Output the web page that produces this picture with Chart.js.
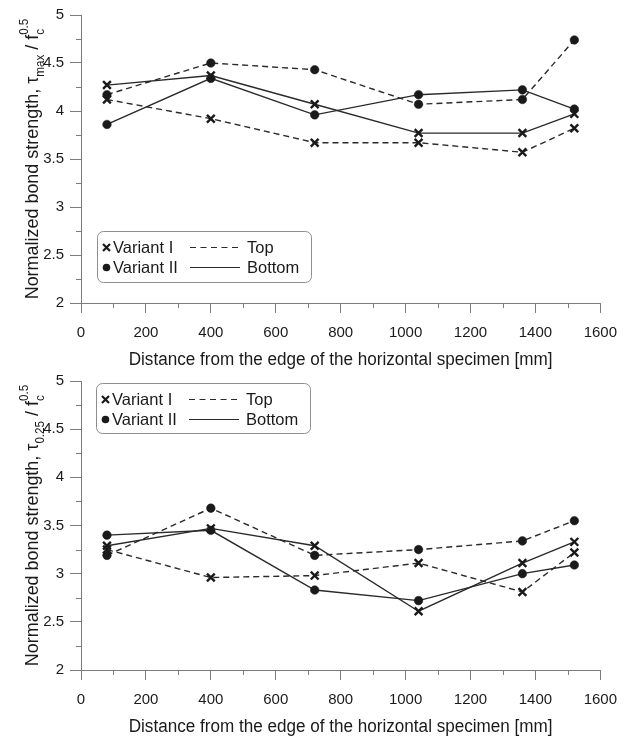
<!DOCTYPE html>
<html>
<head>
<meta charset="utf-8">
<script src="https://cdn.jsdelivr.net/npm/chart.js@4.4.1/dist/chart.umd.min.js"></script>
<style>
  html, body { margin: 0; padding: 0; background: #fff; }
  #wrap { position: relative; width: 628px; height: 740px; overflow: hidden; }
  canvas { position: absolute; left: 0; }
  #chartMax { top: 0; width: 628px; height: 372px; }
  #chart025 { top: 366px; width: 628px; height: 374px; }
</style>
</head>
<body>
<div id="wrap">
  <canvas id="chartMax" width="628" height="372"></canvas>
  <canvas id="chart025" width="628" height="374"></canvas>
</div>
<script>
// distance from the specimen edge [mm]
const positions = [80, 400, 720, 1040, 1360, 1520];

// tau_max / fc^0.5
const maxVariant1Top    = [4.12, 3.92, 3.67, 3.67, 3.57, 3.82];
const maxVariant1Bottom = [4.27, 4.37, 4.07, 3.77, 3.77, 3.97];
const maxVariant2Top    = [4.17, 4.50, 4.43, 4.07, 4.12, 4.74];
const maxVariant2Bottom = [3.86, 4.34, 3.96, 4.17, 4.22, 4.02];

// tau_0.25 / fc^0.5
const t025Variant1Top    = [3.25, 2.96, 2.98, 3.11, 2.81, 3.22];
const t025Variant1Bottom = [3.29, 3.47, 3.29, 2.61, 3.11, 3.33];
const t025Variant2Top    = [3.19, 3.68, 3.19, 3.25, 3.34, 3.55];
const t025Variant2Bottom = [3.40, 3.45, 2.83, 2.72, 3.00, 3.09];

const xMinorTicks = [100, 300, 500, 700, 900, 1100, 1300, 1500];
const yMinorTicks = [2.25, 2.75, 3.25, 3.75, 4.25, 4.75];

const markerLabels = ['Variant I', 'Variant II'];
const lineLabels = ['Top', 'Bottom'];
const xTitle = 'Distance from the edge of the horizontal specimen [mm]';

const FONT = '"Liberation Sans", Arial, Helvetica, sans-serif';
const INK = '#1a1a1a';
const LINE = '#2a2a2a';
const AXIS_GREY = '#7c7c7c';

Chart.defaults.font.family = FONT;
Chart.defaults.color = INK;

function richWidth(ctx, parts) {
    let w = 0;
    parts.forEach(p => {
        ctx.font = p.size + 'px ' + FONT;
        if (p.stack) {
            w += Math.max(...p.stack.map(s => ctx.measureText(s.text).width));
        } else {
            w += ctx.measureText(p.text).width;
        }
    });
    return w;
}

function drawRich(ctx, parts, x0) {
    let x = x0;
    parts.forEach(p => {
        ctx.font = p.size + 'px ' + FONT;
        if (p.stack) {
            let w = 0;
            p.stack.forEach(s => {
                ctx.fillText(s.text, x, s.dy);
                w = Math.max(w, ctx.measureText(s.text).width);
            });
            x += w;
        } else {
            ctx.fillText(p.text, x, p.dy || 0);
            x += ctx.measureText(p.text).width;
        }
    });
}

// axis titles, minor ticks and the boxed legend
const panelPlugin = {
    id: 'panel',
    afterDraw(chart, args, opts) {
        const ctx = chart.ctx;
        const {left, right, top, bottom} = chart.chartArea;
        const xs = chart.scales.x;
        const ys = chart.scales.y;
        ctx.save();

        // minor ticks
        ctx.strokeStyle = AXIS_GREY;
        ctx.lineWidth = 1;
        ctx.beginPath();
        xMinorTicks.forEach(v => {
            const px = Math.round(xs.getPixelForValue(v)) + 0.5;
            ctx.moveTo(px, bottom);
            ctx.lineTo(px, bottom + 5);
        });
        yMinorTicks.forEach(v => {
            const py = Math.round(ys.getPixelForValue(v)) + 0.5;
            ctx.moveTo(left - 5, py);
            ctx.lineTo(left, py);
        });
        ctx.stroke();

        // y title (rotated, with sub/superscripts)
        ctx.fillStyle = INK;
        ctx.textAlign = 'left';
        ctx.textBaseline = 'alphabetic';
        ctx.save();
        const w = richWidth(ctx, opts.yTitle);
        ctx.translate(38, (top + bottom) / 2);
        ctx.rotate(-Math.PI / 2);
        ctx.scale(0.97, 1);
        drawRich(ctx, opts.yTitle, -w / 2);
        ctx.restore();

        // x title
        ctx.save();
        ctx.font = '18px ' + FONT;
        ctx.textAlign = 'center';
        ctx.translate((left + right) / 2, bottom + 62);
        ctx.scale(0.95, 1);
        ctx.fillText(xTitle, 0, 0);
        ctx.restore();

        // legend
        const L = opts.legend;
        ctx.beginPath();
        ctx.roundRect(L.x + 0.5, L.y + 0.5, L.w, L.h, 6);
        ctx.strokeStyle = '#8e8e8e';
        ctx.lineWidth = 1;
        ctx.stroke();

        const rows = [L.y + 16.5, L.y + 36.5];
        // cross
        ctx.strokeStyle = INK;
        ctx.lineWidth = 2.2;
        ctx.beginPath();
        ctx.moveTo(L.x + 6, rows[0] - 3.5); ctx.lineTo(L.x + 13, rows[0] + 3.5);
        ctx.moveTo(L.x + 13, rows[0] - 3.5); ctx.lineTo(L.x + 6, rows[0] + 3.5);
        ctx.stroke();
        // dot
        ctx.beginPath();
        ctx.arc(L.x + 9.5, rows[1], 3.8, 0, Math.PI * 2);
        ctx.fill();

        ctx.font = '16.5px ' + FONT;
        ctx.textBaseline = 'middle';
        ctx.fillText(markerLabels[0], L.x + 16, rows[0] + 1);
        ctx.fillText(markerLabels[1], L.x + 16, rows[1] + 1);

        ctx.strokeStyle = LINE;
        ctx.lineWidth = 1.2;
        ctx.setLineDash([6, 4.5]);
        ctx.beginPath();
        ctx.moveTo(L.x + 93, rows[0]); ctx.lineTo(L.x + 143, rows[0]);
        ctx.stroke();
        ctx.setLineDash([]);
        ctx.beginPath();
        ctx.moveTo(L.x + 93, rows[1]); ctx.lineTo(L.x + 143, rows[1]);
        ctx.stroke();
        ctx.fillText(lineLabels[0], L.x + 150, rows[0] + 1);
        ctx.fillText(lineLabels[1], L.x + 150, rows[1] + 1);

        ctx.restore();
    }
};

function makeSet(label, values, marker, dashed) {
    const cross = marker === 'crossRot';
    return {
        label: label,
        data: positions.map((x, i) => ({x: x, y: values[i]})),
        borderColor: LINE,
        borderWidth: 1.4,
        borderDash: dashed ? [6, 4] : [],
        tension: 0,
        pointStyle: marker,
        pointRadius: cross ? 5.5 : 4.3,
        pointBorderWidth: cross ? 2.4 : 0.5,
        pointBorderColor: INK,
        pointBackgroundColor: INK
    };
}

function buildChart(canvasId, series, yTitle, legendBox, xAxisHeight) {
    return new Chart(document.getElementById(canvasId), {
        type: 'line',
        data: {
            datasets: [
                makeSet('Variant I Top', series[0], 'crossRot', true),
                makeSet('Variant II Top', series[2], 'circle', true),
                makeSet('Variant I Bottom', series[1], 'crossRot', false),
                makeSet('Variant II Bottom', series[3], 'circle', false)
            ]
        },
        options: {
            responsive: false,
            animation: false,
            devicePixelRatio: 1,
            layout: { padding: { top: 14, right: 26, bottom: 0, left: 0 } },
            plugins: {
                legend: { display: false },
                tooltip: { enabled: false },
                panel: { yTitle: yTitle, legend: legendBox }
            },
            scales: {
                x: {
                    type: 'linear',
                    min: 0,
                    max: 1600,
                    ticks: { stepSize: 200, padding: 11, color: INK, font: { size: 15 }, callback: v => String(v) },
                    grid: { drawOnChartArea: false, tickLength: 10, color: AXIS_GREY },
                    border: { color: AXIS_GREY },
                    afterFit: s => { s.height = xAxisHeight; }
                },
                y: {
                    min: 2,
                    max: 5,
                    ticks: { stepSize: 0.5, padding: 6, color: INK, font: { size: 15 }, callback: v => String(v) },
                    grid: { drawOnChartArea: false, tickLength: 11, color: AXIS_GREY },
                    border: { color: AXIS_GREY },
                    afterFit: s => { s.width = 81; }
                }
            }
        },
        plugins: [panelPlugin]
    });
}

const titleMax = [
    { text: 'Normalized bond strength, ', size: 18.5 },
    { text: 'τ', size: 18.5 },
    { text: 'max', size: 12, dy: 6 },
    { text: ' / f', size: 18.5 },
    { size: 12, stack: [{ text: 'c', dy: 6 }, { text: '0.5', dy: -10 }] }
];
const title025 = [
    { text: 'Normalized bond strength, ', size: 18.5 },
    { text: 'τ', size: 18.5 },
    { text: '0.25', size: 12, dy: 6 },
    { text: ' / f', size: 18.5 },
    { size: 12, stack: [{ text: 'c', dy: 6 }, { text: '0.5', dy: -10 }] }
];

buildChart('chartMax',
    [maxVariant1Top, maxVariant1Bottom, maxVariant2Top, maxVariant2Bottom],
    titleMax, { x: 97, y: 231, w: 214, h: 51 }, 69);

buildChart('chart025',
    [t025Variant1Top, t025Variant1Bottom, t025Variant2Top, t025Variant2Bottom],
    title025, { x: 96, y: 17, w: 214, h: 50 }, 70);
</script>
</body>
</html>
